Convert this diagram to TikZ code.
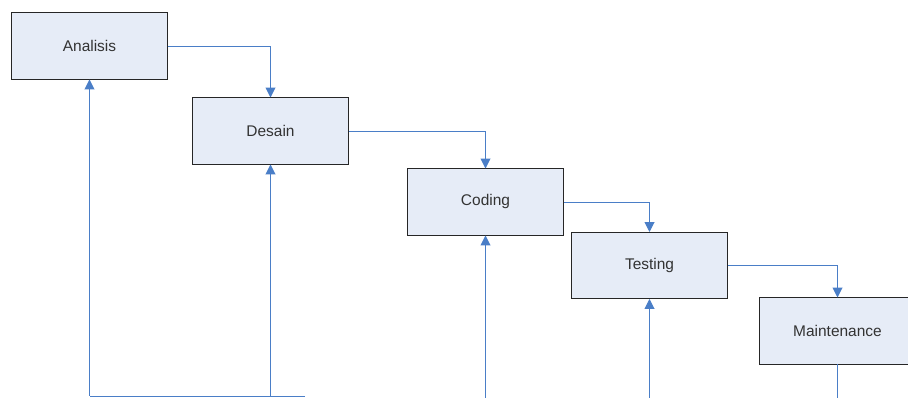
\documentclass[tikz,border=0pt]{standalone}
\usepackage{fontspec}
\setmainfont{Liberation Sans}
\usetikzlibrary{arrows.meta}
\definecolor{boxfill}{HTML}{E6ECF7}
\definecolor{flowblue}{HTML}{4A7EC7}

\begin{document}
\begin{tikzpicture}[x=0.025cm, y=-0.025cm,
  phase/.style={draw=black!85, fill=boxfill, line width=0.7pt, rectangle, minimum width=3.875cm, minimum height=1.65cm, font=\fontsize{11}{13}\selectfont, text=black!80},
  flow/.style={-{Triangle[width=7pt,length=7pt]}, draw=flowblue, line width=0.7pt},
  back/.style={draw=flowblue, line width=0.7pt}
]
\useasboundingbox (0,0) rectangle (908,398);
\node[phase] (analisis) at (89.5,46) {Analisis};
\node[phase] (desain) at (270.5,131) {Desain};
\node[phase] (coding) at (485.5,202) {Coding};
\node[phase] (testing) at (649.5,265.5) {Testing};
\node[phase] (maint) at (837.5,331) {Maintenance};

\coordinate (fa) at (89.5,396);
\coordinate (fd) at (270.5,396);
\coordinate (fc) at (485.5,398);
\coordinate (ft) at (649.5,398);
\coordinate (fm) at (837.5,398);
\coordinate (fe) at (305,396);

\draw[flow] (analisis.east) -| (desain.north);
\draw[flow] (desain.east) -| (coding.north);
\draw[flow] (coding.east) -| (testing.north);
\draw[flow] (testing.east) -| (maint.north);

\draw[back] (maint.south) -- (fm);
\draw[back] (fe) -- (fa);
\draw[flow] (fa) -- (analisis.south);
\draw[flow] (fd) -- (desain.south);
\draw[flow] (fc) -- (coding.south);
\draw[flow] (ft) -- (testing.south);
\end{tikzpicture}
\end{document}
